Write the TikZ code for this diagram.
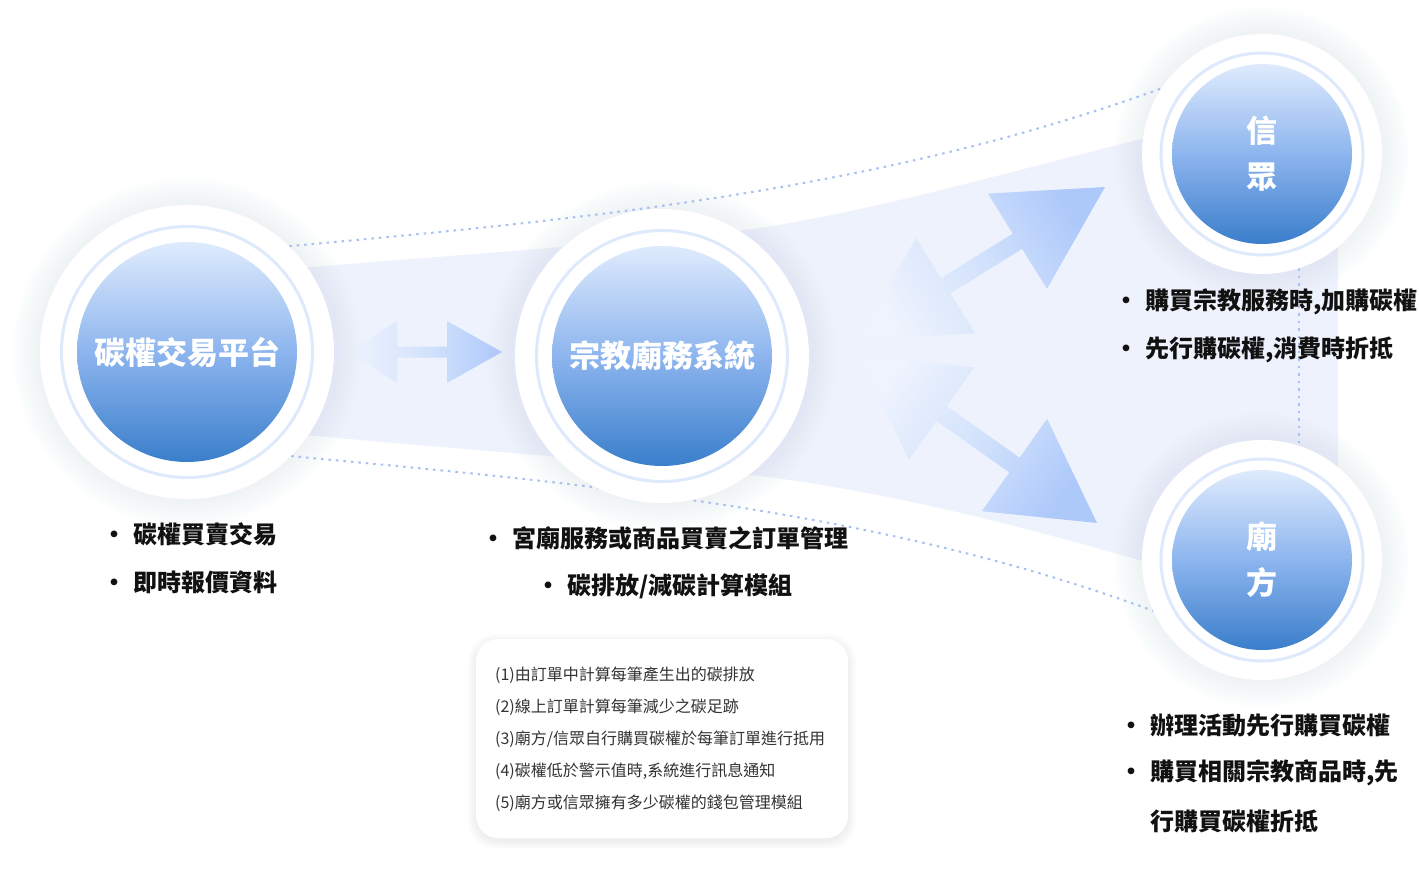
\documentclass[tikz,border=0pt]{standalone}
\usepackage{fontspec}
\newfontfamily\cjk{Noto Sans CJK TC}
\usetikzlibrary{calc}
\definecolor{bandc}{HTML}{EEF2FD}
\definecolor{glowc}{HTML}{B9C9F5}
\definecolor{ringc}{HTML}{DFE9FC}
\definecolor{discTop}{HTML}{DFEBFD}
\definecolor{discMid}{HTML}{8DB5EE}
\definecolor{discBot}{HTML}{3A7ECB}
\definecolor{dotc}{HTML}{A6BFF5}
\definecolor{arrF}{HTML}{ADC9FA}
\definecolor{arrM}{HTML}{D3E2FC}
\definecolor{arrB}{HTML}{EEF3FD}
\definecolor{txtc}{HTML}{111111}
\definecolor{boxtxt}{HTML}{333333}
\pgfdeclarelayer{back}
\pgfdeclarelayer{mid}
\pgfsetlayers{back,mid,main}
\newcommand\bulletmark{\llap{\makebox[38pt][c]{•}}}
\tikzset{
  outerdisc/.style={circle, fill=white, inner sep=0pt, minimum size=#1},
  ringst/.style={draw=ringc, line width=3pt},
  disc/.style={circle, inner sep=0pt, minimum size=#1, top color=discTop, bottom color=discBot, middle color=discMid, text=white, align=center, font=\cjk\bfseries\fontsize{31}{46}\selectfont},
  dotline/.style={draw=dotc, line width=2pt, dash pattern=on 2.5pt off 5pt},
  bul/.style={anchor=west, inner sep=0pt, text=txtc, font=\cjk\bfseries\fontsize{24}{30}\selectfont},
  boxline/.style={anchor=west, inner sep=0pt, text=boxtxt, font=\cjk\fontsize{16}{20}\selectfont},
  boxst/.style={rounded corners=22pt, fill=white, inner sep=0pt, minimum width=372pt, minimum height=199pt},
  arrowshade/.style={bottom color=arrB, top color=arrF, middle color=arrM, shading angle=#1},
}
\begin{document}
\begin{tikzpicture}[x=1pt,y=-1pt]
\path[use as bounding box] (0,0) rectangle (1419,881);
% circle nodes
\node[outerdisc=294pt] (L) at (187,352) {};
\node[outerdisc=294pt] (M) at (662,356) {};
\node[outerdisc=240pt] (XZ) at (1262,154) {};
\node[outerdisc=240pt] (MF) at (1262,560) {};
\draw[ringst] (L.center) circle [radius=125.5pt];
\draw[ringst] (M.center) circle [radius=125.5pt];
\draw[ringst] (XZ.center) circle [radius=101pt];
\draw[ringst] (MF.center) circle [radius=101pt];
\node[disc=220pt] (Lt) at (L.center) {碳權交易平台};
\node[disc=220pt] (Mt) at (M.center) {宗教廟務系統};
\node[disc=180pt] (XZt) at (XZ.center) {信\\眾};
\node[disc=180pt] (MFt) at (MF.center) {廟\\方};

\begin{pgfonlayer}{back}
\fill[white] (0,0) rectangle (1419,881);
\fill[bandc] (187,277) -- (662,239) .. controls (850,225) and (1000,170) .. (1262,110)
  -- (1338,110) -- (1338,600) -- (1262,600) -- (1160,566)
  .. controls (1000,520) and (850,480) .. (662,466) -- (187,425) -- cycle;
\end{pgfonlayer}

\begin{pgfonlayer}{mid}
% dotted connectors
\draw[dotline] (L.46) .. controls (590,219) and (880,190) .. (XZ.147);
\draw[dotline] (L.-45) .. controls (590,484) and (880,510) .. (MF.205);
\draw[dotline] (XZ.-72) -- (MF.72);
% arrows
\shade[arrowshade=-90] (502,352) -- (447,321) -- (447,346.5) -- (397,346.5) -- (397,321)
  -- (350,352) -- (397,383) -- (397,357.5) -- (447,357.5) -- (447,383) -- cycle;
\shade[arrowshade=-58.2] (1105,187) -- (1046.9,288.8) -- (1022.1,248.9) -- (950.3,293.5)
  -- (975.1,333.4) -- (858,340) -- (916.1,238.2) -- (940.9,278.2) -- (1012.7,233.6)
  -- (987.9,193.6) -- cycle;
\shade[arrowshade=-125.2] (1097,523) -- (981.9,511.2) -- (1009.3,472.4) -- (936.3,420.9)
  -- (908.9,459.7) -- (859,355.2) -- (974.1,367.3) -- (946.7,406.2) -- (1019.7,457.7)
  -- (1047.1,418.8) -- cycle;
% glows
\foreach \c/\r in {L/147,M/147,XZ/120,MF/120}{
  \foreach \k in {1,...,12}{
    \fill[glowc, opacity=0.017] (\c.center) circle [radius={\r*1pt+\k*2.3pt}];
  }
}
% box shadow
\foreach \k in {1,...,8}{
  \fill[black, opacity=0.006, rounded corners=26pt] ({476-\k},{639-\k+3}) rectangle ({848+\k},{838+\k+3});
}
\end{pgfonlayer}

% bullet texts
\node[bul] (lb1) at (133,534) {\bulletmark 碳權買賣交易};
\node[bul] (lb2) at (133,582) {\bulletmark 即時報價資料};
\node[bul] (mb1) at (512,538) {\bulletmark 宮廟服務或商品買賣之訂單管理};
\node[bul] (mb2) at (567,586) {\bulletmark 碳排放/減碳計算模組};
\node[bul] (xb1) at (1145,302) {\bulletmark 購買宗教服務時,加購碳權};
\node[bul] (xb2) at (1145,350) {\bulletmark 先行購碳權,消費時折抵};
\node[bul] (fb1) at (1150,725) {\bulletmark 辦理活動先行購買碳權};
\node[bul] (fb2) at (1150,773) {\bulletmark 購買相關宗教商品時,先};
\node[bul] (fb3) at (1150,821) {行購買碳權折抵};

% info box
\node[boxst] (box) at (662,738.5) {};
\node[boxline] (bt1) at (495,675) {(1)由訂單中計算每筆產生出的碳排放};
\node[boxline] (bt2) at (495,707) {(2)線上訂單計算每筆減少之碳足跡};
\node[boxline] (bt3) at (495,739) {(3)廟方/信眾自行購買碳權於每筆訂單進行抵用};
\node[boxline] (bt4) at (495,771) {(4)碳權低於警示值時,系統進行訊息通知};
\node[boxline] (bt5) at (495,803) {(5)廟方或信眾擁有多少碳權的錢包管理模組};
\end{tikzpicture}
\end{document}
